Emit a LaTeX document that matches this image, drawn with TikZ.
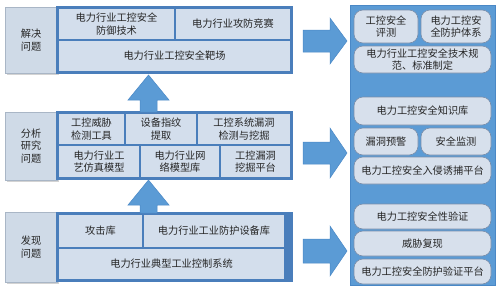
\documentclass[tikz,border=0pt]{standalone}
\usepackage{fontspec}
\setmainfont{Noto Sans CJK SC}
\usetikzlibrary{shadows}
\definecolor{frameblue}{HTML}{4A7EBB}
\definecolor{cellfill}{HTML}{D3DEEC}
\definecolor{labelfill}{HTML}{CFDAE7}
\definecolor{labeldraw}{HTML}{A9B6C6}
\definecolor{arrowblue}{HTML}{5B9BD5}
\definecolor{arrowedge}{HTML}{4A88C6}
\definecolor{panelblue}{HTML}{5B9BD5}
\definecolor{pillfill}{HTML}{D7E0EC}
\definecolor{pilldraw}{HTML}{7A8DA8}
\definecolor{txt}{HTML}{262626}
\newcommand\rectnode[7]{%
  \pgfmathsetmacro\rw{#5-#3}\pgfmathsetmacro\rh{#6-#4}%
  \node[#1, minimum width=\rw pt, minimum height=\rh pt, anchor=north west] (#2) at (#3,#4) {#7};}
\tikzset{
  base/.style={inner sep=1pt, outer sep=0pt, align=center, text=txt,
    font=\fontsize{10.2}{12.5}\selectfont},
  labelbox/.style={base, fill=labelfill, draw=labeldraw, line width=0.6pt,
    drop shadow={opacity=0.35, shadow xshift=1.5pt, shadow yshift=-1.5pt}},
  framebox/.style={base, draw=frameblue, fill=cellfill, line width=2pt},
  cell/.style={base, draw=frameblue, fill=cellfill, line width=1.3pt},
  panel/.style={base, fill=panelblue, draw=arrowedge, line width=0.6pt},
  pill/.style={base, rounded corners=9pt, fill=pillfill, draw=pilldraw, line width=0.6pt},
  blockarrow/.style={fill=arrowblue, draw=arrowedge, line width=0.5pt},
}
\begin{document}
\begin{tikzpicture}[x=1pt,y=-1pt]
\useasboundingbox (0,0) rectangle (500,290);
% ---------- left panels ----------
\rectnode{labelbox}{L1}{5}{7}{57}{73}{解决\\问题}
\rectnode{framebox}{F1}{57}{7}{292}{73}{}
\rectnode{cell}{t1}{58}{8}{175}{40}{电力行业工控安全\\防御技术}
\rectnode{cell}{t2}{175}{8}{291}{40}{电力行业攻防竞赛}
\rectnode{cell}{t3}{58}{40}{291}{72}{电力行业工控安全靶场}

\rectnode{labelbox}{L2}{5}{112}{57}{180}{分析\\研究\\问题}
\rectnode{framebox}{F2}{57}{112}{292}{179}{}
\rectnode{cell}{m1}{58}{113}{125}{145}{工控威胁\\检测工具}
\rectnode{cell}{m2}{125}{113}{197}{145}{设备指纹\\提取}
\rectnode{cell}{m3}{197}{113}{291}{145}{工控系统漏洞\\检测与挖掘}
\rectnode{cell}{m4}{58}{145}{140}{178}{电力行业工\\艺仿真模型}
\rectnode{cell}{m5}{140}{145}{220}{178}{电力行业网\\络模型库}
\rectnode{cell}{m6}{220}{145}{291}{178}{工控漏洞\\挖掘平台}

\rectnode{labelbox}{L3}{5}{212}{57}{282}{发现\\问题}
\rectnode{framebox}{F3}{57}{213}{292}{281}{}
\fill[frameblue] (285,214) rectangle (291,280);
\rectnode{cell}{b1}{58}{214}{143}{248}{攻击库}
\rectnode{cell}{b2}{143}{214}{285}{248}{电力行业工业防护设备库}
\rectnode{cell}{b3}{58}{248}{285}{280}{电力行业典型工业控制系统}

% ---------- up arrows ----------
\draw[blockarrow] (F2.north -| 140,0) -- (140,100) -- (128,100) -- (148.5,75) -- (169,100) -- (157,100) -- (F2.north -| 157,0) -- cycle;
\draw[blockarrow] (F3.north -| 140,0) -- (140,205) -- (128,205) -- (148.5,180) -- (169,205) -- (157,205) -- (F3.north -| 157,0) -- cycle;

% ---------- right panel ----------
\rectnode{panel}{R}{350}{5}{495}{285}{}
\rectnode{pill}{p1}{354}{10}{418}{43}{工控安全\\评测}
\rectnode{pill}{p2}{421}{10}{491}{43}{电力工控安\\全防护体系}
\rectnode{pill}{p3}{354}{46}{491}{73}{电力行业工控安全技术规\\范、标准制定}
\rectnode{pill}{p4}{354}{97}{491}{125}{电力工控安全知识库}
\rectnode{pill}{p5}{354}{128}{418}{155}{漏洞预警}
\rectnode{pill}{p6}{421}{128}{491}{155}{安全监测}
\rectnode{pill}{p7}{354}{157}{491}{184}{电力工控安全入侵诱捕平台}
\rectnode{pill}{p8}{354}{204}{491}{229}{电力工控安全性验证}
\rectnode{pill}{p9}{354}{231}{491}{256}{威胁复现}
\rectnode{pill}{p10}{354}{259}{491}{284}{电力工控安全防护验证平台}

% ---------- right arrows ----------
\draw[blockarrow] (303,30) -- (330,30) -- (330,18) -- (347,41) -- (330,64) -- (330,52) -- (303,52) -- cycle;
\draw[blockarrow] (303,142) -- (330,142) -- (330,128) -- (347,153) -- (330,178) -- (330,164) -- (303,164) -- cycle;
\draw[blockarrow] (303,239) -- (330,239) -- (330,226) -- (347,251) -- (330,276) -- (330,263) -- (303,263) -- cycle;
\end{tikzpicture}
\end{document}
